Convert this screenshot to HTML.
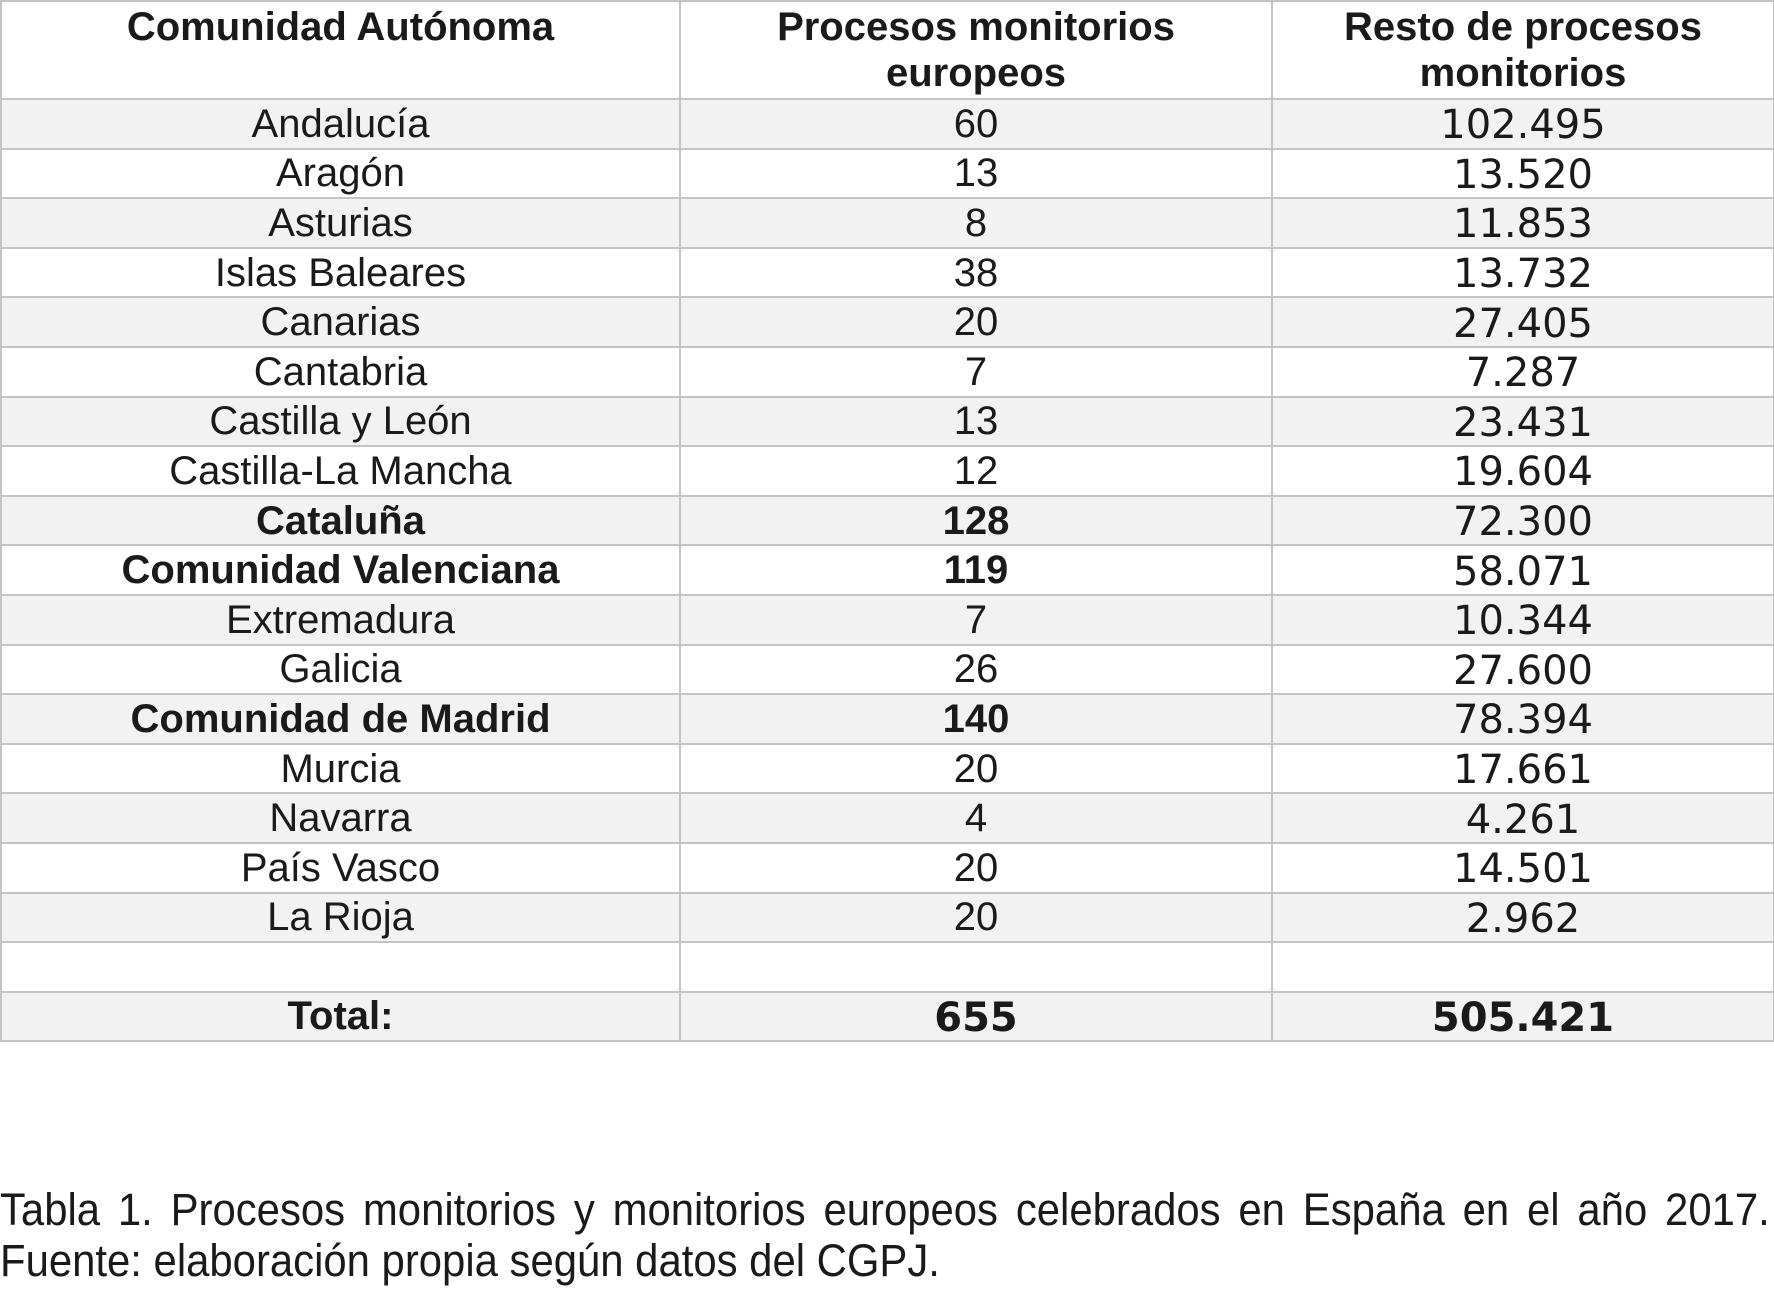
<!DOCTYPE html>
<html><head><meta charset="utf-8"><style>
html,body{margin:0;padding:0;background:#fff;width:1774px;height:1316px;overflow:hidden}
table{position:absolute;left:0;top:0;border-collapse:collapse;table-layout:fixed;width:1773px}
td{border:2px solid #c4c4c4;text-align:center;padding:0;height:47.6px;font-family:"Liberation Sans",sans-serif;font-size:40px;color:#1a1a1a;line-height:44px;white-space:nowrap;overflow:hidden}
tr.alt td{background:#f2f2f2}
td.n3{font-family:"DejaVu Sans",sans-serif;font-size:40px;padding-top:3px;height:44.6px}
td.b{font-weight:bold}
tr.hd td{height:94px;vertical-align:top;font-weight:bold;line-height:46px;padding-top:2px}
.cap{position:absolute;left:0;width:1903px;font-family:"Liberation Sans",sans-serif;font-size:45px;color:#1a1a1a;line-height:50px;transform:scaleX(0.93);transform-origin:0 0;white-space:nowrap}
</style></head><body>
<table>
<colgroup><col style="width:679px"><col style="width:592px"><col style="width:502px"></colgroup>
<tr class="hd"><td>Comunidad Autónoma</td><td>Procesos monitorios<br>europeos</td><td>Resto de procesos<br>monitorios</td></tr>
<tr class="alt"><td>Andalucía</td><td>60</td><td class="n3">102.495</td></tr>
<tr><td>Aragón</td><td>13</td><td class="n3">13.520</td></tr>
<tr class="alt"><td>Asturias</td><td>8</td><td class="n3">11.853</td></tr>
<tr><td>Islas Baleares</td><td>38</td><td class="n3">13.732</td></tr>
<tr class="alt"><td>Canarias</td><td>20</td><td class="n3">27.405</td></tr>
<tr><td>Cantabria</td><td>7</td><td class="n3">7.287</td></tr>
<tr class="alt"><td>Castilla y León</td><td>13</td><td class="n3">23.431</td></tr>
<tr><td>Castilla-La Mancha</td><td>12</td><td class="n3">19.604</td></tr>
<tr class="alt"><td class="b">Cataluña</td><td class="b">128</td><td class="n3">72.300</td></tr>
<tr><td class="b">Comunidad Valenciana</td><td class="b">119</td><td class="n3">58.071</td></tr>
<tr class="alt"><td>Extremadura</td><td>7</td><td class="n3">10.344</td></tr>
<tr><td>Galicia</td><td>26</td><td class="n3">27.600</td></tr>
<tr class="alt"><td class="b">Comunidad de Madrid</td><td class="b">140</td><td class="n3">78.394</td></tr>
<tr><td>Murcia</td><td>20</td><td class="n3">17.661</td></tr>
<tr class="alt"><td>Navarra</td><td>4</td><td class="n3">4.261</td></tr>
<tr><td>País Vasco</td><td>20</td><td class="n3">14.501</td></tr>
<tr class="alt"><td>La Rioja</td><td>20</td><td class="n3">2.962</td></tr>
<tr><td></td><td></td><td></td></tr>
<tr class="alt"><td class="b" style="line-height:38px">Total:</td><td class="n3 b">655</td><td class="n3 b">505.421</td></tr>
</table>
<div class="cap" style="top:1185px;white-space:normal;text-align:justify;text-align-last:justify">Tabla 1. Procesos monitorios y monitorios europeos celebrados en España en el año 2017.</div>
<div class="cap" style="top:1236px">Fuente: elaboración propia según datos del CGPJ.</div>
</body></html>
